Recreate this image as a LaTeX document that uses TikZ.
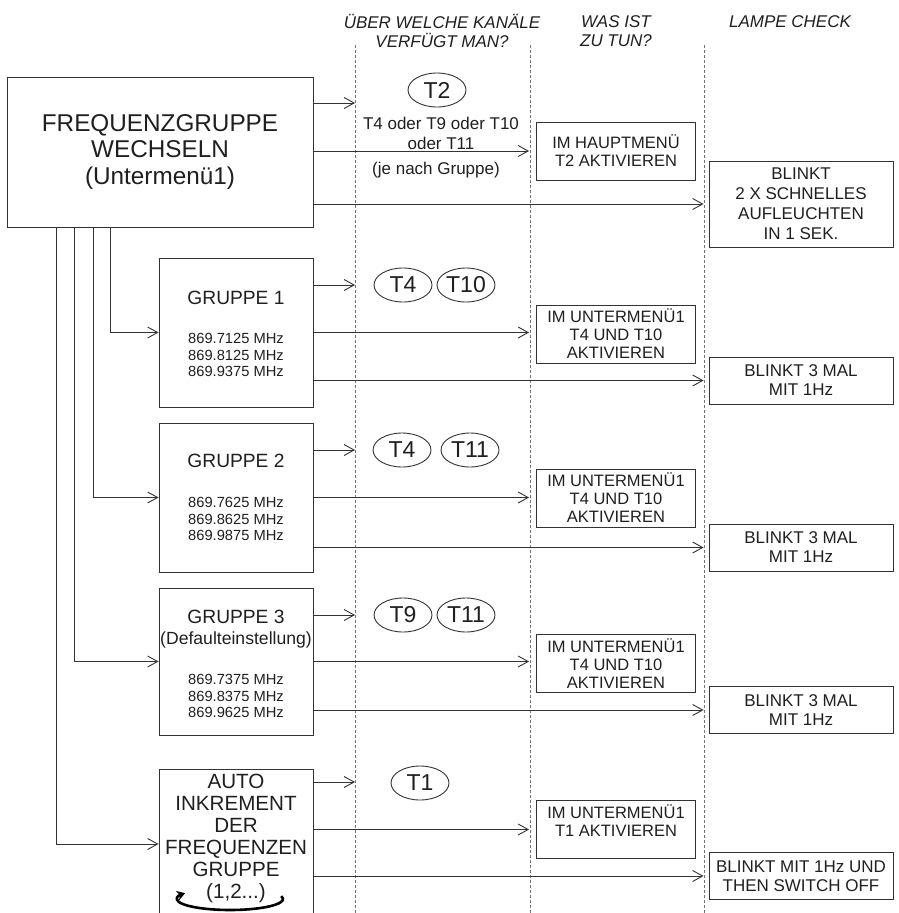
\documentclass[tikz,border=0pt]{standalone}
\usepackage{fontspec}
\setmainfont{Liberation Sans}
\usetikzlibrary{shapes.geometric,arrows.meta}
\colorlet{lncol}{black!80}
\colorlet{txcol}{black!88}

\begin{document}
\begin{tikzpicture}[x=1pt,y=-1pt,line width=0.9pt,
  every node/.style={text=txcol},
  box/.style={draw=lncol,rectangle,inner sep=0pt,align=center},
  conn/.style={draw=lncol,-{Straight Barb[length=10pt,width=11pt]}},
  colline/.style={draw=black!55,line width=0.6pt,dash pattern=on 3pt off 2pt},
  head/.style={align=center,font=\fontsize{17}{19}\selectfont\itshape},
  chan/.style={draw=lncol,ellipse,minimum width=58pt,minimum height=34pt,inner sep=0pt,font=\fontsize{23}{26}\selectfont},
  todo/.style={box,minimum width=159pt,minimum height=58pt,font=\fontsize{16.5}{18}\selectfont},
  lamp/.style={box,minimum width=184pt,minimum height=47pt,font=\fontsize{17}{19}\selectfont},
  grp/.style={box,minimum width=154pt,minimum height=149pt},
  grptitle/.style={font=\fontsize{19.2}{22}\selectfont},
  freq/.style={align=center,font=\fontsize{14.7}{16.5}\selectfont}]
\clip (0,0) rectangle (899,913);

\node[head] (hkan) at (442,31) {ÜBER WELCHE KANÄLE\\VERFÜGT MAN?};
\node[head] (htun) at (616,31) {WAS IST\\ZU TUN?};
\node[head] (hlamp) at (790,22) {LAMPE CHECK};
\foreach \x in {355,530,704} \draw[colline] (\x,45) -- (\x,913);

\node[box,minimum width=306pt,minimum height=150pt,font=\fontsize{24.3}{26.5}\selectfont] (main) at (160,152) {FREQUENZGRUPPE\\WECHSELN\\(Untermenü1)};
\node[chan] (t2) at (437,90) {T2};
\node[align=center,font=\fontsize{17}{20}\selectfont] (kan0) at (441,133) {T4 oder T9 oder T10\\oder T11};
\node[font=\fontsize{17}{20}\selectfont] (kan0b) at (436,170) {(je nach Gruppe)};
\node[todo] (act0) at (616,151) {IM HAUPTMENÜ\\T2 AKTIVIEREN};
\node[lamp,minimum height=86pt,font=\fontsize{17}{20}\selectfont] (lamp0) at (801,204) {BLINKT\\2 X SCHNELLES\\AUFLEUCHTEN\\IN 1 SEK.};
\coordinate (k0) at (355,103);
\draw[conn] (main.east |- k0) -- (k0);
\draw[conn,shorten >=7pt] (main.east |- act0.west) -- (act0.west);
\draw[conn,shorten >=5pt] (main.east |- lamp0.west) -- (lamp0.west);

\coordinate (m1) at (110,227);
\coordinate (m2) at (93,227);
\coordinate (m3) at (74,227);
\coordinate (m4) at (56,227);

\node[grp] (g1) at (236,332.5) {};
\node[grptitle] (g1t) at (236,298) {GRUPPE 1};
\node[freq] (g1f) at (236,355) {869.7125 MHz\\869.8125 MHz\\869.9375 MHz};
\node[chan] (t4a) at (403,285) {T4};
\node[chan] (t10a) at (466,285) {T10};
\node[todo] (act1) at (616,334) {IM UNTERMENÜ1\\T4 UND T10\\AKTIVIEREN};
\node[lamp] (lamp1) at (801,380.5) {BLINKT 3 MAL\\MIT 1Hz};
\coordinate (k1) at (355,285);
\draw[conn] (m1) |- (g1.west);
\draw[conn] (g1.east |- k1) -- (k1);
\draw[conn,shorten >=7pt] (g1.east) -- (act1.west |- g1.east);
\draw[conn,shorten >=5pt] (g1.east |- lamp1.west) -- (lamp1.west);

\node[grp] (g2) at (236,497.5) {};
\node[grptitle] (g2t) at (236,461) {GRUPPE 2};
\node[freq] (g2f) at (236,519) {869.7625 MHz\\869.8625 MHz\\869.9875 MHz};
\node[chan] (t4b) at (402,450) {T4};
\node[chan] (t11b) at (470,450) {T11};
\node[todo] (act2) at (616,498) {IM UNTERMENÜ1\\T4 UND T10\\AKTIVIEREN};
\node[lamp] (lamp2) at (801,547.5) {BLINKT 3 MAL\\MIT 1Hz};
\coordinate (k2) at (355,450);
\draw[conn] (m2) |- (g2.west);
\draw[conn] (g2.east |- k2) -- (k2);
\draw[conn,shorten >=7pt] (g2.east) -- (act2.west |- g2.east);
\draw[conn,shorten >=5pt] (g2.east |- lamp2.west) -- (lamp2.west);

\node[grp,minimum height=147pt] (g3) at (236,661.5) {};
\node[grptitle] (g3t) at (236,617) {GRUPPE 3};
\node[font=\fontsize{17.6}{20}\selectfont] (g3d) at (236,640) {(Defaulteinstellung)};
\node[freq] (g3f) at (236,696) {869.7375 MHz\\869.8375 MHz\\869.9625 MHz};
\node[chan] (t9c) at (403,615) {T9};
\node[chan] (t11c) at (466,615) {T11};
\node[todo] (act3) at (616,663.5) {IM UNTERMENÜ1\\T4 UND T10\\AKTIVIEREN};
\node[lamp] (lamp3) at (801,710) {BLINKT 3 MAL\\MIT 1Hz};
\coordinate (k3) at (355,615);
\draw[conn] (m3) |- (g3.west);
\draw[conn] (g3.east |- k3) -- (k3);
\draw[conn,shorten >=7pt] (g3.east) -- (act3.west |- g3.east);
\draw[conn,shorten >=5pt] (g3.east |- lamp3.west) -- (lamp3.west);

\node[grp,minimum height=150pt] (auto) at (236,844) {};
\node[align=center,font=\fontsize{20.6}{22}\selectfont] (autot) at (236,838) {AUTO\\INKREMENT\\DER\\FREQUENZEN\\GRUPPE\\(1,2...)};
\coordinate (loop) at (230,899);
\draw[draw=black,line width=2.6pt,-{Stealth[length=8pt,width=10pt]}] (loop) ++(-15:53 and 11) arc[start angle=-15,end angle=212,x radius=53,y radius=11];
\node[chan] (t1) at (420,783) {T1};
\node[todo] (act4) at (616,829.5) {IM UNTERMENÜ1\\T1 AKTIVIEREN\\\mbox{}};
\node[lamp] (lamp4) at (801,876) {BLINKT MIT 1Hz UND\\THEN SWITCH OFF};
\coordinate (k4) at (355,782);
\draw[conn] (m4) |- (auto.west);
\draw[conn] (auto.east |- k4) -- (k4);
\draw[conn,shorten >=7pt] (auto.east |- act4.west) -- (act4.west);
\draw[conn,shorten >=5pt] (auto.east |- lamp4.west) -- (lamp4.west);
\end{tikzpicture}
\end{document}
